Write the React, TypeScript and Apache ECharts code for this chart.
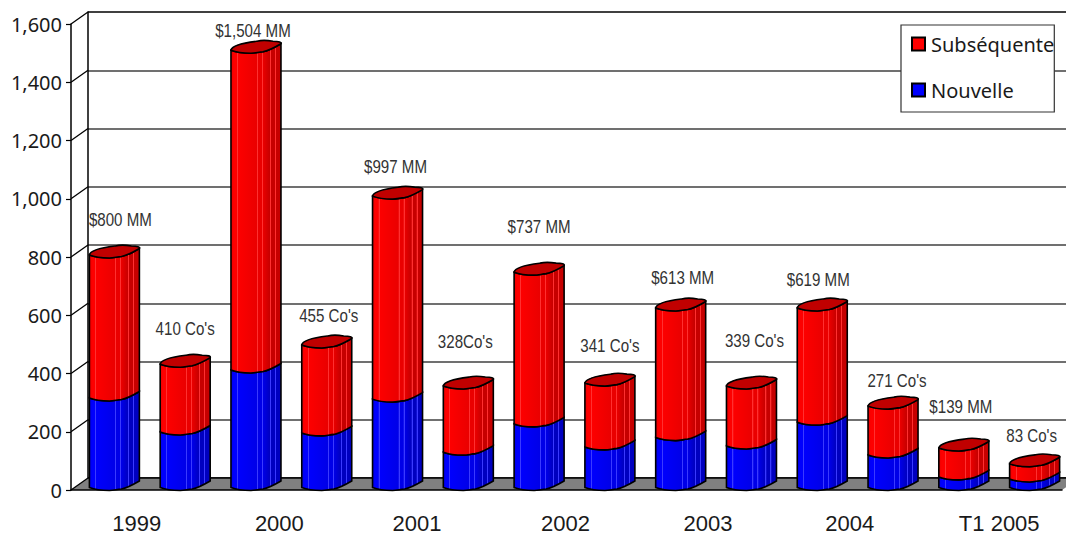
import React, { useEffect, useRef } from "react";
import * as echarts from "echarts";

const barLabels = ["1999a", "1999b", "2000a", "2000b", "2001a", "2001b", "2002a", "2002b", "2003a", "2003b", "2004a", "2004b", "2005a", "2005b"];
const yearLabels = ["1999", "2000", "2001", "2002", "2003", "2004", "T1 2005"];
const nouvelle = [316, 199, 412, 196, 312, 130, 227, 148, 180, 151, 233, 120, 45, 38];
const totals = [807, 432, 1510, 498, 1009, 357, 748, 367, 625, 357, 625, 288, 144, 90];
const annotations = ["$800 MM", "410 Co's", "$1,504 MM", "455 Co's", "$997 MM", "328Co's", "$737 MM", "341 Co's", "$613 MM", "339 Co's", "$619 MM", "271 Co's", "$139 MM", "83 Co's"];
const yTicks = [0, 200, 400, 600, 800, 1000, 1200, 1400, 1600];

// layout only: nudge of every annotation from the top of its bar, and of every year label
const annotationDx = [6, 0, -3, 2, -2, -3, 0, 0, 2, 3, -4, 4, -3, -3];
const annotationDy = [-35, -35, -19, -29, -29, -44, -45, -37, -30, -45, -28, -25, -41, -28];
const yearShift = [-5, -4, -8, -1, 0, 0, 8];

const DEPTH_X = 17;
const DEPTH_Y = 12;
const BAR_W = 50;
const BAR_SHIFT = 8;
const RISE = 6.5;

function frontEdge(ctx: any, x: number, y: number, w: number) {
  const k = w / 50;
  ctx.bezierCurveTo(x + 5 * k, y + 2, x + 12 * k, y + 3, x + 20 * k, y + 3);
  ctx.bezierCurveTo(x + 24 * k, y + 3, x + 27 * k, y + 2, x + 32 * k, y + 1.5);
  ctx.bezierCurveTo(x + 38 * k, y + 0.5, x + 44 * k, y - 3, x + 50 * k, y - RISE);
}

function frontEdgeBack(ctx: any, x: number, y: number, w: number) {
  const k = w / 50;
  ctx.bezierCurveTo(x + 44 * k, y - 3, x + 38 * k, y + 0.5, x + 32 * k, y + 1.5);
  ctx.bezierCurveTo(x + 27 * k, y + 2, x + 24 * k, y + 3, x + 20 * k, y + 3);
  ctx.bezierCurveTo(x + 12 * k, y + 3, x + 5 * k, y + 2, x, y);
}

echarts.graphic.registerShape(
  "cylBody",
  echarts.graphic.extendShape({
    shape: { x: 0, top: 0, bottom: 0, w: 50 },
    buildPath(ctx: any, s: any) {
      ctx.moveTo(s.x, s.top);
      ctx.lineTo(s.x, s.bottom);
      frontEdge(ctx, s.x, s.bottom, s.w);
      ctx.lineTo(s.x + s.w, s.top - RISE);
      frontEdgeBack(ctx, s.x, s.top, s.w);
      ctx.closePath();
    },
  })
);

echarts.graphic.registerShape(
  "cylCap",
  echarts.graphic.extendShape({
    shape: { x: 0, y: 0, w: 50 },
    buildPath(ctx: any, s: any) {
      const k = s.w / 50;
      ctx.moveTo(s.x, s.y);
      frontEdge(ctx, s.x, s.y, s.w);
      ctx.bezierCurveTo(s.x + 51 * k, s.y - 8, s.x + 48 * k, s.y - 9, s.x + 42 * k, s.y - 9);
      ctx.bezierCurveTo(s.x + 36 * k, s.y - 10, s.x + 30 * k, s.y - 10, s.x + 26 * k, s.y - 9);
      ctx.bezierCurveTo(s.x + 18 * k, s.y - 8, s.x + 1 * k, s.y - 6, s.x, s.y);
      ctx.closePath();
    },
  })
);

function shade(bright: string, mid: string, dark: string, stripe: string) {
  const stripes = [0.12, 0.52, 0.62, 0.78, 0.88];
  const colorAt = (t: number) => (t < 0.45 ? bright : t < 0.72 ? mid : dark);
  const stops: { offset: number; color: string }[] = [
    { offset: 0, color: mid },
    { offset: 0.06, color: bright },
  ];
  stripes.forEach((t) => {
    stops.push({ offset: t - 0.001, color: colorAt(t) });
    stops.push({ offset: t, color: stripe });
    stops.push({ offset: t + 0.02, color: stripe });
    stops.push({ offset: t + 0.021, color: colorAt(t + 0.03) });
  });
  stops.push({ offset: 1, color: dark });
  return { type: "linear", x: 0, y: 0, x2: 1, y2: 0, colorStops: stops };
}

const redFill = shade("#fd0000", "#ea0000", "#c60000", "#ff3030");
const blueFill = shade("#0000fd", "#0000e8", "#0000c0", "#3a3aff");

function barLeft(api: any, i: number) {
  return api.coord([i, 0])[0] - BAR_W / 2 + BAR_SHIFT;
}

export default function App() {
  const ref = useRef<HTMLDivElement>(null);
  useEffect(() => {
    const chart = echarts.init(ref.current!, undefined, { renderer: "svg" });
    chart.setOption({
      animation: false,
      backgroundColor: "#fff",
      grid: [
        { left: 71, top: 24, width: 991, height: 466, outerBoundsMode: "none" },
        { left: 71 + DEPTH_X, top: 24 - DEPTH_Y, width: 1010, height: 466, outerBoundsMode: "none" },
      ],
      xAxis: [
        {
          type: "category",
          gridIndex: 0,
          data: barLabels,
          z: 3,
          axisLine: { lineStyle: { color: "#000", width: 1.5 } },
          axisTick: { length: 8, lineStyle: { color: "#000", width: 1.2 } },
          axisLabel: { show: false },
        },
        {
          type: "category",
          gridIndex: 0,
          position: "bottom",
          data: yearLabels.map((value, i) => ({
            value,
            textStyle: {
              padding: yearShift[i] < 0 ? [0, -2 * yearShift[i], 0, 0] : [0, 0, 0, 2 * yearShift[i]],
            },
          })),
          axisLine: { show: false },
          axisTick: { show: false },
          axisLabel: {
            margin: 25,
            fontFamily: "Liberation Sans",
            fontSize: 22,
            lineHeight: 16,
            color: "#1a1a1a",
            interval: 0,
          },
        },
        { type: "category", gridIndex: 1, show: false, data: barLabels },
      ],
      yAxis: [
        {
          type: "value",
          gridIndex: 0,
          min: 0,
          max: 1600,
          interval: 200,
          z: 3,
          axisLine: { show: true, lineStyle: { color: "#000", width: 1.5 } },
          axisTick: { show: true, length: 5, lineStyle: { color: "#000", width: 1.2 } },
          splitLine: { show: false },
          axisLabel: {
            margin: 9,
            fontFamily: "Noto Sans",
            fontSize: 20,
            color: "#1a1a1a",
            formatter: (v: number) => v.toLocaleString("en-US"),
          },
        },
        {
          type: "value",
          gridIndex: 1,
          min: 0,
          max: 1600,
          interval: 200,
          axisLine: { show: true, lineStyle: { color: "#000", width: 1.5 } },
          axisTick: { show: false },
          axisLabel: { show: false },
          splitLine: {
            show: true,
            lineStyle: {
              width: 1.5,
              color: ["#000", "#404040", "#404040", "#404040", "#404040", "#404040", "#404040", "#404040", "#000"],
            },
          },
        },
      ],
      legend: {
        left: 901,
        top: 25,
        orient: "vertical",
        align: "left",
        backgroundColor: "#fff",
        borderColor: "#333",
        borderWidth: 1.2,
        borderRadius: 0,
        padding: [9, 0, 12, 10],
        itemWidth: 13,
        itemHeight: 13,
        itemGap: 26,
        selectedMode: false,
        z: 8,
        textStyle: { fontFamily: "Noto Sans", fontSize: 20, color: "#1a1a1a", padding: [0, 0, 0, 1] },
        data: [
          { name: "Subséquente", icon: "rect" },
          { name: "Nouvelle", icon: "rect" },
        ],
      },
      series: [
        {
          type: "custom",
          name: "wall",
          z: 1,
          xAxisIndex: 0,
          yAxisIndex: 0,
          clip: false,
          silent: true,
          data: yTicks.map((v) => [0, v]),
          encode: { x: 0, y: 1 },
          renderItem: (params: any, api: any) => {
            const cs = params.coordSys;
            const y = api.coord([0, api.value(1)])[1];
            const children: any[] = [];
            if (params.dataIndex === 0) {
              children.push({
                type: "polygon",
                shape: {
                  points: [
                    [cs.x, y],
                    [cs.x + DEPTH_X, y - DEPTH_Y],
                    [cs.x + cs.width + DEPTH_X, y - DEPTH_Y],
                    [cs.x + cs.width, y],
                  ],
                },
                style: { fill: "#808080" },
              });
              children.push({
                type: "line",
                shape: { x1: cs.x + DEPTH_X, y1: y - DEPTH_Y, x2: cs.x + cs.width + DEPTH_X, y2: y - DEPTH_Y },
                style: { stroke: "#000", lineWidth: 1.5 },
              });
            }
            children.push({
              type: "line",
              shape: { x1: cs.x, y1: y, x2: cs.x + DEPTH_X, y2: y - DEPTH_Y },
              style: { stroke: "#000", lineWidth: 1.3 },
            });
            return { type: "group", children };
          },
        },
        {
          type: "custom",
          name: "Nouvelle",
          z: 4,
          xAxisIndex: 0,
          yAxisIndex: 0,
          clip: false,
          itemStyle: { color: "#0000ff", borderColor: "#000", borderWidth: 1 },
          data: nouvelle.map((v, i) => [i, v]),
          encode: { x: 0, y: 1 },
          renderItem: (_p: any, api: any) => {
            const i = api.value(0);
            return {
              type: "cylBody",
              shape: {
                x: barLeft(api, i),
                top: api.coord([i, api.value(1)])[1],
                bottom: api.coord([i, 0])[1] - 2.5,
                w: BAR_W,
              },
              style: { fill: blueFill, stroke: "#000", lineWidth: 1.6 },
            };
          },
        },
        {
          type: "custom",
          name: "Subséquente",
          z: 5,
          xAxisIndex: 0,
          yAxisIndex: 0,
          clip: false,
          itemStyle: { color: "#ff0000", borderColor: "#000", borderWidth: 1 },
          data: totals.map((v, i) => [i, v, nouvelle[i]]),
          encode: { x: 0, y: 1 },
          renderItem: (_p: any, api: any) => {
            const i = api.value(0);
            const x = barLeft(api, i);
            const top = api.coord([i, api.value(1)])[1];
            const bottom = api.coord([i, api.value(2)])[1];
            return {
              type: "group",
              children: [
                {
                  type: "cylBody",
                  shape: { x, top, bottom, w: BAR_W },
                  style: { fill: redFill, stroke: "#000", lineWidth: 1.6 },
                },
                {
                  type: "cylCap",
                  shape: { x, y: top, w: BAR_W },
                  style: { fill: "#c00000", stroke: "#000", lineWidth: 1.6 },
                },
              ],
            };
          },
        },
        {
          type: "custom",
          name: "annotations",
          z: 6,
          xAxisIndex: 0,
          yAxisIndex: 0,
          clip: false,
          silent: true,
          data: totals.map((v, i) => [i, v]),
          encode: { x: 0, y: 1 },
          renderItem: (_p: any, api: any) => {
            const i = api.value(0);
            const p = api.coord([i, api.value(1)]);
            return {
              type: "text",
              x: p[0] + BAR_SHIFT + annotationDx[i],
              y: p[1] + annotationDy[i],
              scaleX: 0.84,
              style: {
                text: annotations[i],
                fill: "#333",
                font: '18px "Liberation Sans"',
                align: "center",
                verticalAlign: "middle",
              },
            };
          },
        },
      ],
    });
    return () => chart.dispose();
  }, []);
  return (
    <div
      ref={ref}
      style={{ position: "fixed", left: 0, top: 0, width: 1066, height: 535 }}
    />
  );
}
